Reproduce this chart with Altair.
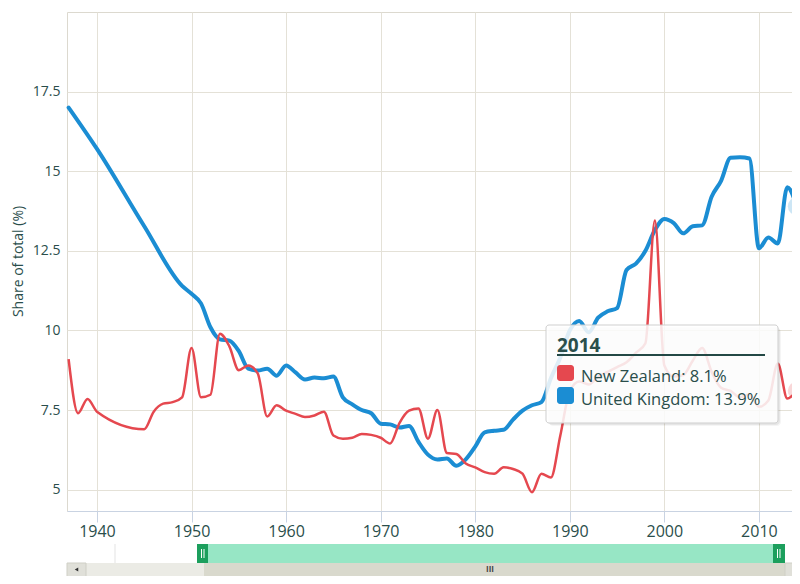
import altair as alt
import pandas as pd

# ---------------- data ----------------
nz_years = [1937, 1938, 1939, 1940, 1945, 1946, 1947, 1948, 1949, 1950,
            1951, 1952, 1953, 1954, 1955, 1956, 1957, 1958, 1959, 1960,
            1961, 1962, 1963, 1964, 1965, 1966, 1967, 1968, 1969, 1970,
            1971, 1972, 1973, 1974, 1975, 1976, 1977, 1978, 1979, 1980,
            1981, 1982, 1983, 1984, 1985, 1986, 1987, 1988, 1989, 1990,
            1991, 1992, 1993, 1994, 1995, 1996, 1997, 1998, 1999, 2000,
            2001, 2002, 2003, 2004, 2005, 2006, 2007, 2008, 2009, 2010,
            2011, 2012, 2013, 2014]
nz_values = [9.1, 7.4, 7.85, 7.45, 6.9, 7.45, 7.7, 7.75, 7.9, 9.45,
             7.9, 7.98, 9.9, 9.5, 8.75, 8.9, 8.65, 7.3, 7.65, 7.48,
             7.38, 7.28, 7.33, 7.45, 6.7, 6.6, 6.63, 6.75, 6.72, 6.63,
             6.45, 7.1, 7.48, 7.55, 6.6, 7.5, 6.15, 6.12, 5.82, 5.7,
             5.55, 5.5, 5.7, 5.65, 5.5, 4.92, 5.5, 5.38, 6.7, 8.1,
             8.4, 8.3, 8.55, 8.7, 8.85, 9.0, 9.3, 9.6, 13.45, 8.9,
             8.55, 8.6, 9.05, 9.45, 8.7, 8.2, 8.1, 7.9, 8.0, 7.6,
             7.8, 8.96, 7.86, 8.1]

uk_years = [1937, 1940, 1945, 1949, 1950, 1951, 1952, 1953, 1954, 1955, 1956, 1957,
            1958, 1959, 1960, 1961, 1962, 1963, 1964, 1965, 1966, 1967,
            1968, 1969, 1970, 1971, 1972, 1973, 1974, 1975, 1976, 1977,
            1978, 1979, 1980, 1981, 1982, 1983, 1984, 1985, 1986, 1987,
            1988, 1989, 1990, 1991, 1992, 1993, 1994, 1995, 1996, 1997,
            1998, 1999, 2000, 2001, 2002, 2003, 2004, 2005, 2006, 2007,
            2008, 2009, 2010, 2011, 2012, 2013, 2014]
uk_values = [17.0, 15.7, 13.27, 11.4, 11.15, 10.85, 10.1, 9.72, 9.68, 9.35, 8.8, 8.74,
             8.8, 8.58, 8.9, 8.68, 8.46, 8.52, 8.5, 8.55, 7.9, 7.68,
             7.5, 7.4, 7.07, 7.05, 6.95, 7.0, 6.5, 6.1, 5.95, 5.98,
             5.75, 5.95, 6.35, 6.8, 6.85, 6.88, 7.2, 7.48, 7.65, 7.75,
             8.5, 9.15, 10.0, 10.3, 9.94, 10.4, 10.6, 10.7, 11.9, 12.1,
             12.5, 13.15, 13.5, 13.37, 13.05, 13.27, 13.3, 14.2, 14.7, 15.42,
             15.44, 15.4, 12.58, 12.92, 12.73, 14.5, 13.9]

countries = ["New Zealand", "United Kingdom"]
colors = ["#e5484f", "#1b8dd3"]
x_ticks = [1940, 1950, 1960, 1970, 1980, 1990, 2000, 2010]
y_ticks = [5, 7.5, 10, 12.5, 15, 17.5]
hover_year = 2014

TEXT = "#2a4e4b"
FONT = "Open Sans"

nz_df = pd.DataFrame({"year": nz_years, "value": nz_values, "country": countries[0]})
uk_df = pd.DataFrame({"year": uk_years, "value": uk_values, "country": countries[1]})
hover_df = pd.concat([nz_df[nz_df.year == hover_year], uk_df[uk_df.year == hover_year]])

xscale = alt.Scale(domain=[1936.83, 2013.5], nice=False, zero=False)
yscale = alt.Scale(domain=[4.33, 20], nice=False, zero=False)
cscale = alt.Scale(domain=countries, range=colors)

X = alt.X("year:Q", scale=xscale, title=None,
          axis=alt.Axis(values=x_ticks, format="d", grid=True, gridColor="#e4e1d7",
                        labelFont=FONT, labelFontSize=16, labelColor=TEXT,
                        domainColor="#c9d3e2", tickColor="#c9d3e2", tickSize=11,
                        labelPadding=1))
Y = alt.Y("value:Q", scale=yscale,
          axis=alt.Axis(values=y_ticks, labelExpr="toString(datum.value)",
                        grid=True, gridColor="#e4e1d7",
                        labelFont=FONT, labelFontSize=14, labelColor=TEXT,
                        ticks=False, domain=False, labelPadding=7,
                        title="Share of total (%)", titleFont=FONT, titleFontSize=14,
                        titleFontWeight="normal", titleColor=TEXT, titleAngle=-90,
                        titleX=-49, titleY=249, titleAlign="center",
                        titleBaseline="middle"))

crosshair = alt.Chart(hover_df.head(1)).mark_rule(color="#d6d6d6", strokeWidth=1,
                                                  clip=False).encode(
    x=alt.X("year:Q", scale=xscale))

uk_line = alt.Chart(uk_df).mark_line(interpolate="monotone", strokeWidth=4,
                                     strokeCap="round", strokeJoin="round").encode(
    x=X, y=Y, color=alt.Color("country:N", scale=cscale, legend=None))
nz_line = alt.Chart(nz_df).mark_line(interpolate="monotone", strokeWidth=2.5,
                                     strokeJoin="round").encode(
    x=alt.X("year:Q", scale=xscale), y=alt.Y("value:Q", scale=yscale),
    color=alt.Color("country:N", scale=cscale, legend=None))

halo = alt.Chart(hover_df).mark_point(filled=True, size=320, opacity=0.22, clip=False).encode(
    x=alt.X("year:Q", scale=xscale), y=alt.Y("value:Q", scale=yscale),
    color=alt.Color("country:N", scale=cscale, legend=None))
dot = alt.Chart(hover_df).mark_point(filled=True, size=60, opacity=1, stroke="white",
                                     strokeWidth=1, clip=False).encode(
    x=alt.X("year:Q", scale=xscale), y=alt.Y("value:Q", scale=yscale),
    color=alt.Color("country:N", scale=cscale, legend=None))

one = pd.DataFrame({"k": [0]})


def box(x1, x2, y1, y2, **kw):
    return alt.Chart(one).mark_rect(**kw).encode(
        x=alt.value(x1), x2=alt.value(x2), y=alt.value(y1), y2=alt.value(y2))


def label(txt, x, y, **kw):
    return alt.Chart(one).mark_text(**kw).encode(
        x=alt.value(x), y=alt.value(y), text=alt.value(txt))


def vline(x, y1, y2, color="white"):
    return alt.Chart(one).mark_rule(color=color, strokeWidth=1).encode(
        x=alt.value(x), y=alt.value(y1), y2=alt.value(y2))


# ---------------- tooltip ----------------
tip_layers = [
    box(482, 714, 316, 414, fill="black", opacity=0.04, cornerRadius=4),
    box(481, 713, 315, 413, fill="black", opacity=0.06, cornerRadius=4),
    box(479, 711, 313, 411, fill="white", fillOpacity=0.86, stroke="#cfcfcf",
        strokeWidth=1, cornerRadius=3),
    label(str(hover_year), 490, 340, align="left", baseline="alphabetic", font=FONT,
          fontSize=19, fontWeight="bold", color=TEXT),
    alt.Chart(one).mark_rule(color="#234845", strokeWidth=2).encode(
        x=alt.value(490), x2=alt.value(698), y=alt.value(343)),
]
row_y = [(353, 369, 370), (375, 392, 393)]
for (c, col, (ya, yb, yt), df) in zip(countries, colors, row_y, [nz_df, uk_df]):
    v = df[df.year == hover_year]["value"].iloc[0]
    tip_layers.append(box(490, 507, ya, yb, fill=col, cornerRadius=3))
    tip_layers.append(label(f"{c}: {v:.1f}%", 514, yt, align="left",
                            baseline="alphabetic", font=FONT, fontSize=16.5, color=TEXT))

# ---------------- navigator / scrollbar ----------------
G1, G2, T2 = 532, 551, 566
nav_layers = [
    vline(48, G1, G2, "#e3e3e3"),
    box(130, 718, G1, G2, fill="#97e6c5"),
    box(130, 141, G1, G2, fill="#1c9f5d"),
    box(706, 718, G1, G2, fill="#1c9f5d"),
    vline(134.5, G1 + 5, G2 - 5), vline(137, G1 + 5, G2 - 5),
    vline(710.5, G1 + 5, G2 - 5), vline(713, G1 + 5, G2 - 5),
    box(0, 733, G2, T2, fill="#ebebe5"),
    box(137, 718, G2, T2, fill="#d9d9cd"),
    box(0, 19, G2, T2, fill="#e0e0d9", stroke="#cfcfc6", strokeWidth=1),
    box(718, 733, G2, T2, fill="#e0e0d9", stroke="#cfcfc6", strokeWidth=1),
    alt.Chart(one).mark_point(shape="triangle-left", filled=True, size=16,
                              color="#333333", opacity=1).encode(
        x=alt.value(9.5), y=alt.value((G2 + 564) / 2)),
    label("III", 423, (G2 + 564) / 2, align="center", baseline="middle", font=FONT,
          fontSize=8, fontWeight="bold", color="#444444"),
]

chart = alt.layer(
    crosshair, uk_line, nz_line, halo, dot, *tip_layers, *nav_layers
).properties(
    width=725, height=499,
    padding={"left": 59, "top": 4, "right": 0, "bottom": 65},
    autosize=alt.AutoSizeParams(type="none"),
    background="white",
).configure_view(
    stroke="#dcd9cf", strokeWidth=1
)

chart.save("out.html", embed_options={"renderer": "svg", "actions": False})
